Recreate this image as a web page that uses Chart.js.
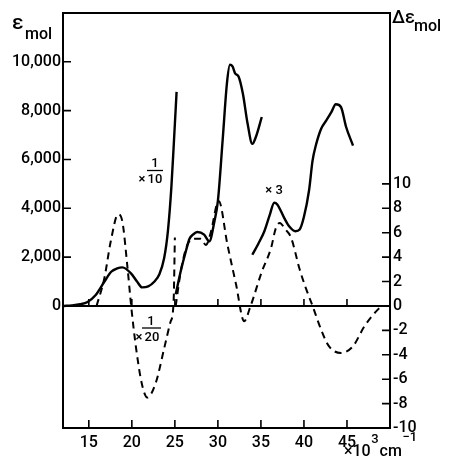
<!DOCTYPE html>
<html><head><meta charset="utf-8">
<script src="https://cdn.jsdelivr.net/npm/chart.js@4.4.1/dist/chart.umd.min.js"></script>
<style>html,body{margin:0;padding:0;background:#fff;}#wrap{width:450px;height:468px;position:relative;}</style>
</head><body><div id="wrap"><canvas id="c" width="450" height="468"></canvas></div>
<script>
// Wavenumber (x10^3 cm^-1) and molar absorption / CD values
const absA_x = [12.1, 13, 14, 14.85, 15.8, 16.8, 17.6, 18.3, 18.9, 19.9, 20.6, 21.2, 21.9, 22.6, 23.2, 23.75, 24.2, 24.6, 24.9, 25.2];
const absA_y = [0, 20, 70, 165, 450, 990, 1400, 1540, 1580, 1335, 1000, 760, 800, 990, 1300, 1950, 3100, 4900, 6800, 8770];
const absB_x = [25.1, 25.7, 26.3, 26.7, 27.1, 27.6, 28.4, 29.0, 29.6, 30.0, 30.55, 31.05, 31.4, 31.7, 32.0, 32.4, 32.9, 33.45, 34.0, 34.4, 35.1];
const absB_y = [480, 1450, 2270, 2750, 2920, 3030, 2920, 2645, 3470, 4300, 6780, 9120, 9880, 9810, 9530, 9400, 8700, 7470, 6640, 6910, 7740];
const absC_x = [34.0, 34.7, 35.4, 36.0, 36.55, 36.9, 37.7, 38.3, 39.0, 39.5, 40.0, 40.6, 41.0, 41.4, 42.0, 42.6, 43.2, 43.7, 44.3, 44.9, 45.7];
const absC_y = [2095, 2550, 3060, 3700, 4230, 4160, 3610, 3250, 3060, 3130, 3650, 4750, 5950, 6600, 7260, 7600, 7950, 8260, 8150, 7330, 6570];
const cdA_x = [15.9, 16.8, 17.55, 18.4, 18.9, 19.5, 19.95, 20.5, 21.2, 21.8, 22.8, 23.75, 24.5, 24.85, 25.0];
const cdA_y = [0, 2.25, 5.3, 7.5, 6.9, 3.1, -0.2, -3.5, -6.5, -7.5, -6.25, -3.5, -1.3, 0.3, 5.6];
const cdB_x = [25.1, 25.7, 26.45, 27.2, 28.0, 28.6, 29.2, 29.9, 30.1, 31.1, 32.1, 33.05, 33.8, 35.1, 36.2, 36.7, 37.2, 37.8, 38.5, 39.5, 40.2, 41.0, 42.0, 42.9, 44.3, 45.7, 47.0, 48.0, 49.0];
const cdB_y = [0, 2.9, 5.0, 5.5, 5.5, 5.0, 6.1, 8.4, 8.6, 5.05, 1.8, -1.25, 0.0, 2.8, 4.8, 6.3, 6.8, 6.3, 5.6, 3.0, 1.5, 0, -1.95, -3.3, -3.85, -3.3, -1.7, -0.75, 0];
const xTicks = [15, 20, 25, 30, 35, 40, 45];
const leftTicks = [0, 2000, 4000, 6000, 8000, 10000];
const rightTicks = [-10, -8, -6, -4, -2, 0, 2, 4, 6, 8, 10];

const pts = (xs, ys) => xs.map((v, i) => ({x: v, y: ys[i]}));
const solid = (xs, ys) => ({data: pts(xs, ys), yAxisID: 'y', borderColor: '#000', borderWidth: 2.4, pointRadius: 0, fill: false, cubicInterpolationMode: 'monotone'});
const dashed = (xs, ys) => ({data: pts(xs, ys), yAxisID: 'y2', borderColor: '#000', borderWidth: 2, borderDash: [7, 5], pointRadius: 0, fill: false, cubicInterpolationMode: 'monotone'});

const FONT = 'Roboto, "DejaVu Sans", sans-serif';
const W = '500 ';

const deco = {
  id: 'deco',
  afterDraw(chart) {
    const {ctx, chartArea: a, scales: {x, y, y2}} = chart;
    ctx.save();
    ctx.strokeStyle = '#000'; ctx.fillStyle = '#000';
    ctx.lineWidth = 2;
    ctx.strokeRect(a.left, a.top, a.right - a.left, a.bottom - a.top);
    const y0 = y.getPixelForValue(0);
    ctx.beginPath(); ctx.moveTo(a.left, y0); ctx.lineTo(a.right, y0); ctx.stroke();
    ctx.lineWidth = 1.6;
    ctx.beginPath();
    xTicks.forEach(v => { const p = x.getPixelForValue(v); ctx.moveTo(p, a.bottom); ctx.lineTo(p, a.bottom - 8); ctx.moveTo(p, y0); ctx.lineTo(p, y0 - 7); });
    leftTicks.forEach(v => { const p = y.getPixelForValue(v); ctx.moveTo(a.left, p); ctx.lineTo(a.left + 8, p); });
    rightTicks.forEach(v => { const p = y2.getPixelForValue(v); ctx.moveTo(a.right, p); ctx.lineTo(a.right - 8, p); });
    ctx.stroke();
    // axis titles
    ctx.textBaseline = 'alphabetic'; ctx.textAlign = 'left';
    ctx.font = W + '21px ' + FONT; ctx.fillText('ε', 12, 29);
    ctx.font = W + '16px ' + FONT; ctx.fillText('mol', 25, 39);
    ctx.font = W + '18px ' + FONT; ctx.fillText('Δε', 392, 23);
    ctx.font = W + '16px ' + FONT; ctx.fillText('mol', 414, 31);
    // x-axis unit, placed piece by piece
    let cx = 344;
    ctx.font = W + '16px ' + FONT; ctx.fillText('×10', cx, 456); cx += ctx.measureText('×10').width + 0.5;
    ctx.font = W + '13px ' + FONT; ctx.fillText('3', cx, 443); cx += ctx.measureText('3').width + 1;
    ctx.font = W + '16px ' + FONT; ctx.fillText('cm', cx, 456); cx += ctx.measureText('cm').width + 0.5;
    ctx.font = W + '13px ' + FONT; ctx.fillText('−1', cx, 441);
    // annotations
    ctx.lineWidth = 1.3;
    ctx.font = W + '13px ' + FONT; ctx.textAlign = 'center';
    ctx.fillText('1', 155, 167);
    ctx.beginPath(); ctx.moveTo(147, 170.5); ctx.lineTo(163, 170.5); ctx.stroke();
    ctx.fillText('10', 155, 183);
    ctx.fillText('×', 142, 183);
    ctx.fillText('× 3', 274, 194);
    ctx.fillText('1', 151, 325);
    ctx.beginPath(); ctx.moveTo(142, 328); ctx.lineTo(161, 328); ctx.stroke();
    ctx.fillText('20', 152, 341);
    ctx.fillText('×', 139, 341);
    ctx.restore();
  }
};

const tickFont = {family: FONT, size: 16, weight: 500};
new Chart(document.getElementById('c'), {
  type: 'line',
  data: {datasets: [solid(absA_x, absA_y), solid(absB_x, absB_y), solid(absC_x, absC_y), dashed(cdA_x, cdA_y), dashed(cdB_x, cdB_y)]},
  options: {
    responsive: false, animation: false,
    layout: {padding: {top: 13, left: 0, right: 0, bottom: 0}},
    plugins: {legend: {display: false}, tooltip: {enabled: false}, title: {display: false}},
    scales: {
      x: {type: 'linear', min: 12, max: 50, position: 'bottom',
        afterBuildTicks: s => { s.ticks = xTicks.map(v => ({value: v})); },
        afterFit: s => { s.height = 40; },
        grid: {display: false, drawTicks: false}, border: {display: false},
        ticks: {font: tickFont, color: '#000', padding: 5, maxRotation: 0, autoSkip: false}},
      y: {type: 'linear', min: -5000, max: 12000, position: 'left',
        afterBuildTicks: s => { s.ticks = leftTicks.map(v => ({value: v})); },
        afterFit: s => { s.width = 63; },
        grid: {display: false, drawTicks: false}, border: {display: false},
        ticks: {font: tickFont, color: '#000', padding: 2, autoSkip: false, callback: v => v.toLocaleString('en-US')}},
      y2: {type: 'linear', min: -10, max: 24, position: 'right',
        afterBuildTicks: s => { s.ticks = rightTicks.map(v => ({value: v})); },
        afterFit: s => { s.width = 60; },
        grid: {display: false, drawTicks: false}, border: {display: false},
        ticks: {font: tickFont, color: '#000', padding: 3, autoSkip: false}}
    }
  },
  plugins: [deco]
});
</script></body></html>
